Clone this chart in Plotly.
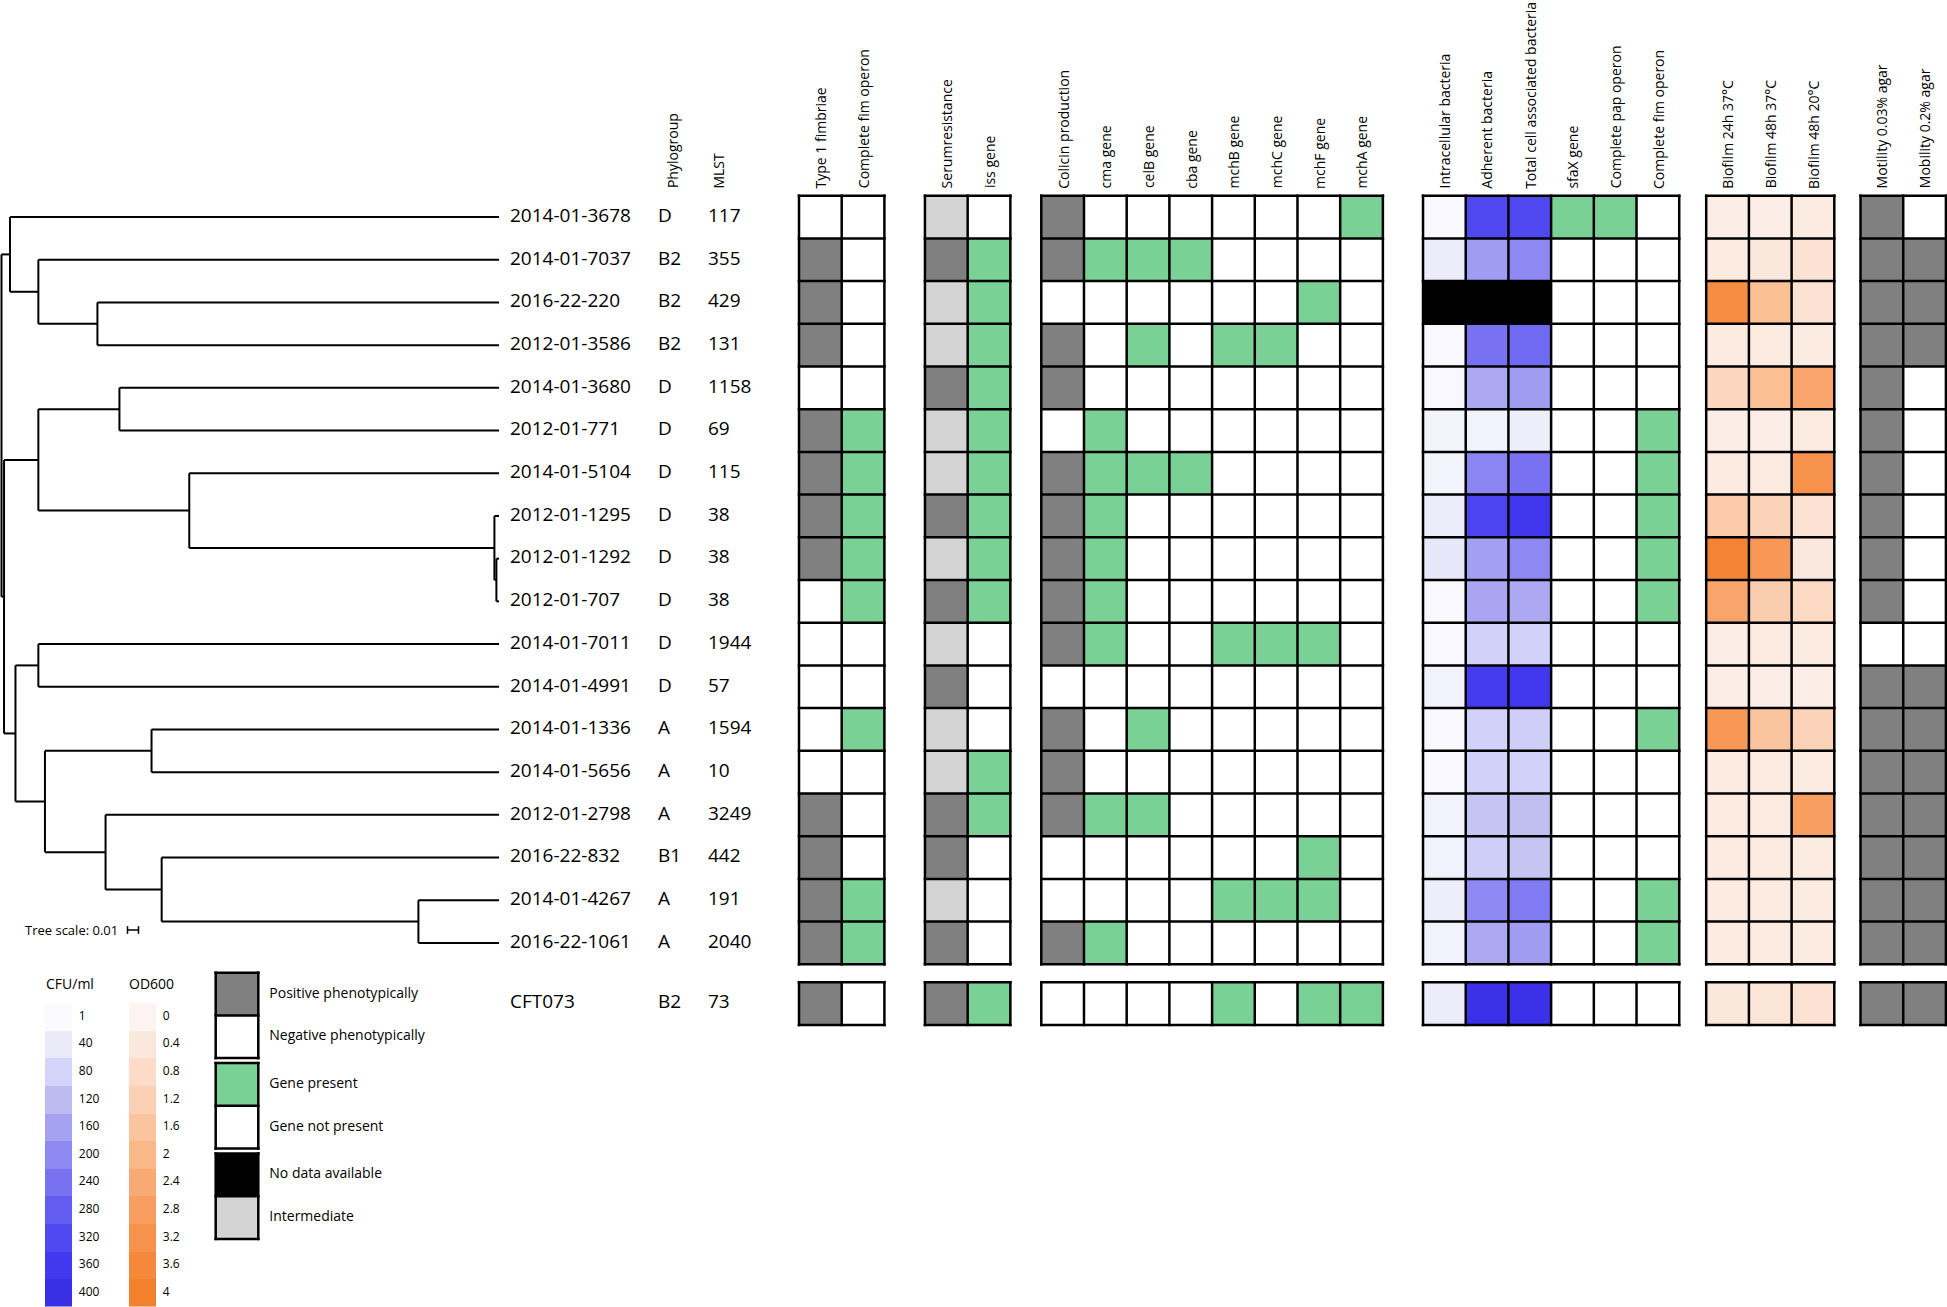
import plotly.graph_objects as go

# ----------------------------- data -----------------------------
strains = ["2014-01-3678", "2014-01-7037", "2016-22-220", "2012-01-3586", "2014-01-3680",
           "2012-01-771", "2014-01-5104", "2012-01-1295", "2012-01-1292", "2012-01-707",
           "2014-01-7011", "2014-01-4991", "2014-01-1336", "2014-01-5656", "2012-01-2798",
           "2016-22-832", "2014-01-4267", "2016-22-1061", "CFT073"]
phylogroups = ["D", "B2", "B2", "B2", "D", "D", "D", "D", "D", "D", "D", "D",
               "A", "A", "A", "B1", "A", "A", "B2"]
mlst_types = ["117", "355", "429", "131", "1158", "69", "115", "38", "38", "38", "1944", "57",
              "1594", "10", "3249", "442", "191", "2040", "73"]

# categorical codes: P positive, N negative, I intermediate, G gene present, A gene absent
type1_fimbriae = list("NPPPNPPPPNNNNNPPPP" + "P")
fim_operon = list("AAAAAGGGGGAAGAAAGG" + "A")
serumresistance = list("IPIIPIIPIPIPIIPPIP" + "P")
iss_gene = list("AGGGGGGGGGAAAGGAAA" + "G")
colicin_production = list("PPNPPNPPPPPNPPPNNP" + "N")
cma_gene = list("AGAAAGGGGGGAAAGAAG" + "A")
celb_gene = list("AGAGAAGAAAAAGAGAAA" + "A")
cba_gene = list("AGAAAAGAAAAAAAAAAA" + "A")
mchb_gene = list("AAAGAAAAAAGAAAAAGA" + "G")
mchc_gene = list("AAAGAAAAAAGAAAAAGA" + "A")
mchf_gene = list("AAGAAAAAAAGAAAAGGA" + "G")
mcha_gene = list("GAAAAAAAAAAAAAAAAA" + "G")
sfax_gene = list("GAAAAAAAAAAAAAAAAA" + "A")
pap_operon = list("GAAAAAAAAAAAAAAAAA" + "A")
motility_003 = list("PPPPPPPPPPNPPPPPPP" + "P")
mobility_02 = list("NPPPNNNNNNNPPPPPPP" + "P")

# CFU/ml (None = no data available)
intracellular_cfu = [5, 35, None, 5, 5, 15, 15, 35, 45, 5, 5, 20, 5, 3, 20, 20, 30, 20, 35]
adherent_cfu = [320, 170, None, 240, 150, 20, 205, 330, 165, 155, 85, 350, 85, 85, 105, 90, 200, 150, 390]
total_cfu = [320, 200, None, 255, 170, 30, 240, 370, 200, 150, 85, 360, 90, 85, 115, 105, 225, 170, 390]

# OD600
biofilm_24h_37 = [0.2, 0.3, 3.4, 0.3, 1.0, 0.2, 0.3, 1.4, 3.8, 2.6, 0.2, 0.2, 3.0, 0.3, 0.3, 0.3, 0.3, 0.3, 0.4]
biofilm_48h_37 = [0.2, 0.4, 1.8, 0.3, 1.8, 0.2, 0.3, 1.1, 3.0, 1.3, 0.3, 0.2, 1.6, 0.3, 0.3, 0.3, 0.3, 0.3, 0.5]
biofilm_48h_20 = [0.3, 0.6, 0.6, 0.3, 2.6, 0.3, 3.2, 0.6, 0.4, 0.9, 0.3, 0.2, 1.1, 0.3, 2.8, 0.3, 0.3, 0.3, 0.6]

# legend scales
cfu_legend_values = [1, 40, 80, 120, 160, 200, 240, 280, 320, 360, 400]
od_legend_values = [0, 0.4, 0.8, 1.2, 1.6, 2, 2.4, 2.8, 3.2, 3.6, 4]
category_legend = [("Positive phenotypically", "P"), ("Negative phenotypically", "N"),
                   ("Gene present", "G"), ("Gene not present", "A"),
                   ("No data available", "X"), ("Intermediate", "I")]

# phylogenetic tree: node -> (distance from root, children); ints are leaf rows
tree = {
    "root": (0.0, ["A", "R2"]),
    "A": (0.0077, [0, "B"]),
    "B": (0.0335, [1, "C"]),
    "C": (0.0872, [2, 3]),
    "R2": (0.0023, ["D", "I"]),
    "D": (0.0335, ["E", "F"]),
    "E": (0.1072, [4, 5]),
    "F": (0.1707, [6, "G"]),
    "G": (0.4481, [7, "G2"]),
    "G2": (0.4499, [8, 9]),
    "I": (0.0127, ["H", "J"]),
    "H": (0.0335, [10, 11]),
    "J": (0.0395, ["K", "L"]),
    "K": (0.1364, [12, 13]),
    "L": (0.0946, [14, "M"]),
    "M": (0.1456, [15, "N"]),
    "N": (0.3790, [16, 17]),
}
leaf_depth = 0.4523
tree_scale_value = 0.01

# ----------------------------- layout constants -----------------------------
FONT = "Open Sans"
FIG_W, FIG_H = 1947, 1307
CELL = 42.7
GRID_LEFT = 799.0
GRID_TOP = 195.7
ROW_GAP = 0.42
TREE_PX_PER_UNIT = 1100.0
TREE_ROOT_PX = 1.5


def ux(px):
    return (px - GRID_LEFT) / CELL


def vy(py):
    return (py - GRID_TOP) / CELL


def tx(px):
    return (px - TREE_ROOT_PX) / TREE_PX_PER_UNIT


blocks = [
    (0.0, [("Type 1 fimbriae", "cat", type1_fimbriae), ("Complete fim operon", "cat", fim_operon)]),
    (2.95, [("Serumresistance", "cat", serumresistance), ("iss gene", "cat", iss_gene)]),
    (5.674, [("Colicin production", "cat", colicin_production), ("cma gene", "cat", cma_gene),
             ("celB gene", "cat", celb_gene), ("cba gene", "cat", cba_gene),
             ("mchB gene", "cat", mchb_gene), ("mchC gene", "cat", mchc_gene),
             ("mchF gene", "cat", mchf_gene), ("mchA gene", "cat", mcha_gene)]),
    (14.614, [("Intracellular bacteria", "cfu", intracellular_cfu), ("Adherent bacteria", "cfu", adherent_cfu),
              ("Total cell associated bacteria", "cfu", total_cfu), ("sfaX gene", "cat", sfax_gene),
              ("Complete pap operon", "cat", pap_operon), ("Complete fim operon", "cat", fim_operon)]),
    (21.246, [("Biofilm 24h 37°C", "od", biofilm_24h_37), ("Biofilm 48h 37°C", "od", biofilm_48h_37),
              ("Biofilm 48h 20°C", "od", biofilm_48h_20)]),
    (24.86, [("Motility 0.03% agar", "cat", motility_003), ("Mobility 0.2% agar", "cat", mobility_02)]),
]

CODE = {"N": 0, "P": 1, "I": 2, "G": 3, "A": 4, "X": 5}
CAT_COLORS = ["#ffffff", "#808080", "#d4d4d4", "#7ad196", "#ffffff", "#000000"]
cat_scale = []
for k, c in enumerate(CAT_COLORS):
    cat_scale += [[k / 6, c], [(k + 1) / 6, c]]

CFU_STOPS = [(0, "#fafaff"), (40, "#eaeaf9"), (80, "#d4d4fb"), (120, "#bcbcf0"), (160, "#a6a2f2"),
             (200, "#8e88f2"), (240, "#7872f3"), (280, "#625cf0"), (320, "#4f48f0"), (360, "#4238ef"),
             (400, "#3a2ee6")]
OD_STOPS = [(0, "#fdf3f0"), (0.4, "#fbe8dc"), (0.8, "#fcdcc8"), (1.2, "#fbd0b4"), (1.6, "#fac59e"),
            (2.0, "#f9b888"), (2.4, "#f8aa74"), (2.8, "#f79e60"), (3.2, "#f6924c"), (3.6, "#f5883a"),
            (4.0, "#f3802c")]
cfu_scale = [[v / 400, c] for v, c in CFU_STOPS]
od_scale = [[v / 4, c] for v, c in OD_STOPS]

fig = go.Figure()

# ----------------------------- heatmap grid -----------------------------
x_edges = [0.0]
slot_cols = []
prev_end = 0.0
for start, cols in blocks:
    if start > prev_end + 1e-9:
        x_edges.append(start)
        slot_cols.append(None)
    for k, col in enumerate(cols):
        x_edges.append(start + k + 1)
        slot_cols.append(col)
    prev_end = start + len(cols)

n_iso = len(strains) - 1
y_edges = list(range(n_iso + 1)) + [n_iso + ROW_GAP, n_iso + ROW_GAP + 1]
row_idx = list(range(n_iso)) + [None, n_iso]

cat_z, cfu_z, od_z = [], [], []
for ri in row_idx:
    rc, rf, ro = [], [], []
    for col in slot_cols:
        c = f = o = None
        if ri is not None and col is not None:
            _, kind, vals = col
            val = vals[ri]
            if kind == "cat":
                c = CODE[val]
            elif val is None:
                c = CODE["X"]
            elif kind == "cfu":
                f = val
            else:
                o = val
        rc.append(c)
        rf.append(f)
        ro.append(o)
    cat_z.append(rc)
    cfu_z.append(rf)
    od_z.append(ro)

fig.add_trace(go.Heatmap(x=x_edges, y=y_edges, z=cat_z, colorscale=cat_scale, zmin=-0.5, zmax=5.5,
                         showscale=False, hoverinfo="skip"))
fig.add_trace(go.Heatmap(x=x_edges, y=y_edges, z=cfu_z, colorscale=cfu_scale, zmin=0, zmax=400,
                         showscale=False, hoverinfo="skip"))
fig.add_trace(go.Heatmap(x=x_edges, y=y_edges, z=od_z, colorscale=od_scale, zmin=0, zmax=4,
                         showscale=False, hoverinfo="skip"))

# grid lines
gx, gy = [], []
for start, cols in blocks:
    n = len(cols)
    for y0, nrows in [(0, n_iso), (n_iso + ROW_GAP, 1)]:
        for k in range(n + 1):
            gx += [start + k, start + k, None]
            gy += [y0 - 0.03, y0 + nrows + 0.03, None]
        for r in range(nrows + 1):
            gx += [start - 0.03, start + n + 0.03, None]
            gy += [y0 + r, y0 + r, None]
fig.add_trace(go.Scatter(x=gx, y=gy, mode="lines", line=dict(color="black", width=2.5),
                         hoverinfo="skip"))

# column headers
annotations = []
for start, cols in blocks:
    for k, (name, _, _) in enumerate(cols):
        annotations.append(dict(x=start + k + 0.5, y=-0.12, xref="x", yref="y", text=name,
                                textangle=-90, xanchor="center", yanchor="bottom", showarrow=False,
                                font=dict(family=FONT, size=14, color="black")))
for name, px in [("Phylogroup", 672), ("MLST", 719)]:
    annotations.append(dict(x=ux(px), y=-0.12, xref="x", yref="y", text=name, textangle=-90,
                            xanchor="center", yanchor="bottom", showarrow=False,
                            font=dict(family=FONT, size=14, color="black")))

# ----------------------------- row labels -----------------------------
row_y = [r + 0.5 for r in range(n_iso)] + [n_iso + ROW_GAP + 0.5]
for px, texts in [(510, strains), (658, phylogroups), (708, mlst_types)]:
    fig.add_trace(go.Scatter(x=[ux(px)] * len(texts), y=row_y, text=texts, mode="text",
                             textposition="middle right", hoverinfo="skip",
                             textfont=dict(family=FONT, size=19, color="black")))

# ----------------------------- tree -----------------------------
def node_y(n):
    if isinstance(n, int):
        return n + 0.5
    ch = tree[n][1]
    return (node_y(ch[0]) + node_y(ch[-1])) / 2


def node_depth(n):
    return leaf_depth if isinstance(n, int) else tree[n][0]


tx_, ty_ = [], []
for name, (d, ch) in tree.items():
    cys = [node_y(c) for c in ch]
    tx_ += [d, d, None]
    ty_ += [min(cys), max(cys), None]
    for c, cy in zip(ch, cys):
        tx_ += [d, node_depth(c), None]
        ty_ += [cy, cy, None]
fig.add_trace(go.Scatter(x=tx_, y=ty_, mode="lines", line=dict(color="black", width=2),
                         xaxis="x2", yaxis="y", hoverinfo="skip"))

# tree scale bar
sb0 = tx(127.5)
sby = vy(930)
fig.add_trace(go.Scatter(x=[sb0, sb0 + tree_scale_value, None, sb0, sb0, None,
                            sb0 + tree_scale_value, sb0 + tree_scale_value],
                         y=[sby, sby, None, sby - 0.09, sby + 0.09, None, sby - 0.09, sby + 0.09],
                         mode="lines", line=dict(color="black", width=1.5), xaxis="x2", yaxis="y",
                         hoverinfo="skip"))
annotations.append(dict(x=23 / FIG_W, y=1 - 930 / FIG_H, xref="paper", yref="paper",
                        text="Tree scale: 0.01", xanchor="left", yanchor="middle", showarrow=False,
                        font=dict(family=FONT, size=13, color="black")))

# ----------------------------- colour legends -----------------------------
half_w = 13.35 / 84
for ci, (vals, scale, zmax) in enumerate([(cfu_legend_values, cfu_scale, 400),
                                          (od_legend_values, od_scale, 4)]):
    fig.add_trace(go.Heatmap(x=[ci - half_w, ci + half_w], y=list(range(len(vals) + 1)),
                             z=[[v] for v in vals], colorscale=scale, zmin=0, zmax=zmax,
                             showscale=False, hoverinfo="skip", xaxis="x3", yaxis="y3"))
    fig.add_trace(go.Scatter(x=[ci + half_w + 0.085] * len(vals), y=[i + 0.5 for i in range(len(vals))],
                             text=[f"{v:g}" for v in vals], mode="text", textposition="middle right",
                             textfont=dict(family=FONT, size=12, color="black"),
                             xaxis="x3", yaxis="y3", hoverinfo="skip"))
for text, px in [("CFU/ml", 70), ("OD600", 151.7)]:
    annotations.append(dict(x=px / FIG_W, y=1 - 983 / FIG_H, xref="paper", yref="paper", text=text,
                            xanchor="center", yanchor="middle", showarrow=False,
                            font=dict(family=FONT, size=14, color="black")))

# categorical legend boxes (2 per group, same size as cells)
leg_x0, leg_x1 = ux(215.7), ux(258.3)
leg_top = vy(972.7)
group_gap = 5 / CELL
leg_y_edges, leg_z, lx, ly, ltext, lyy = [leg_top], [], [], [], [], []
y = leg_top
for gi in range(0, len(category_legend), 2):
    if gi > 0:
        y += group_gap
        leg_y_edges.append(y)
        leg_z.append([None])
    g0 = y
    for label, code in category_legend[gi:gi + 2]:
        leg_z.append([CODE[code]])
        ltext.append(label)
        lyy.append(y + 0.5)
        y += 1
        leg_y_edges.append(y)
    for yy in [g0, g0 + 1, g0 + 2]:
        lx += [leg_x0 - 0.03, leg_x1 + 0.03, None]
        ly += [yy, yy, None]
    for xx in [leg_x0, leg_x1]:
        lx += [xx, xx, None]
        ly += [g0 - 0.03, g0 + 2.03, None]
fig.add_trace(go.Heatmap(x=[leg_x0, leg_x1], y=leg_y_edges, z=leg_z, colorscale=cat_scale,
                         zmin=-0.5, zmax=5.5, showscale=False, hoverinfo="skip"))
fig.add_trace(go.Scatter(x=lx, y=ly, mode="lines", line=dict(color="black", width=2.5), hoverinfo="skip"))
fig.add_trace(go.Scatter(x=[ux(269.3)] * len(ltext), y=lyy, text=ltext, mode="text",
                         textposition="middle right", hoverinfo="skip",
                         textfont=dict(family=FONT, size=14, color="black")))

# ----------------------------- layout -----------------------------
fig.update_layout(
    width=FIG_W, height=FIG_H, margin=dict(l=0, r=0, t=0, b=0),
    paper_bgcolor="white", plot_bgcolor="rgba(0,0,0,0)", showlegend=False, hovermode=False,
    xaxis=dict(domain=[0, 1], range=[ux(0), ux(FIG_W)], visible=False),
    yaxis=dict(domain=[0, 1], range=[vy(FIG_H), vy(0)], visible=False),
    xaxis2=dict(overlaying="x", anchor="y", range=[tx(0), tx(FIG_W)], visible=False),
    xaxis3=dict(domain=[(58.35 - 42) / FIG_W, (142.35 + 42) / FIG_W], anchor="y3",
                range=[-0.5, 1.5], visible=False),
    yaxis3=dict(domain=[1 - 1306.6 / FIG_H, 1 - 1003 / FIG_H], anchor="x3",
                range=[len(cfu_legend_values), 0], visible=False),
    annotations=annotations,
)

fig.write_html("out.html", config={"displayModeBar": False},
               post_script="document.body.style.margin='0';")
